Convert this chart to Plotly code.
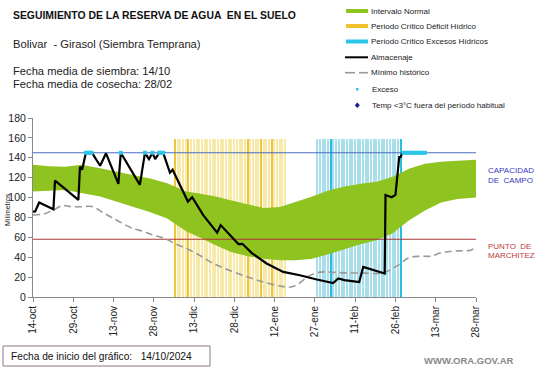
import plotly.graph_objects as go
import pandas as pd

# ---------------- data ----------------
START = pd.Timestamp("2024-10-14")
tick_days = [0, 15, 30, 45, 60, 75, 90, 105, 120, 135, 150, 165]
tick_labels = ["14-oct", "29-oct", "13-nov", "28-nov", "13-dic", "28-dic",
               "12-ene", "27-ene", "11-feb", "26-feb", "13-mar", "28-mar"]

capacidad_campo = 145
punto_marchitez = 58
period_bar_height = 159

band_days = [0, 6, 12, 18, 25, 31, 37, 44, 50, 57, 62, 68, 74, 80, 86, 92,
             98, 104, 110, 116, 122, 128, 134, 140, 146, 152, 158, 165]
band_high = [133, 131.5, 131, 133, 129.5, 126, 123, 119, 114.5, 106, 104, 101,
             97, 93, 89.5, 90.5, 95.5, 101, 107, 111, 114, 116, 121, 129,
             134, 136, 137, 138]
band_low = [106, 106.5, 107.5, 104.5, 101, 96, 91, 85, 79, 66, 60, 52,
            45, 41, 38.5, 37, 37, 38.5, 43, 48, 53, 57, 64, 77,
            87, 95, 98.5, 100]

min_days = [0, 4, 8, 11, 14, 18, 22, 26, 29, 33, 37, 41, 45, 49, 53, 57, 62,
            67, 73, 80, 86, 92, 96, 99, 103, 107, 112, 117, 124, 129, 132,
            136, 140, 144, 148, 152, 156, 160, 163, 165]
min_vals = [82.5, 83.5, 88, 92, 91, 90.8, 91, 85, 80.5, 74.5, 69, 66, 62, 59,
            53.5, 49, 42, 34, 27, 20, 15, 11, 10, 13.5, 21.5, 25, 24.8, 24.2,
            24, 23.6, 26, 32, 39.5, 41, 41, 44.5, 46, 46.5, 47, 50.5]

alm_days = [0, 0.8, 2.3, 7.6, 8.2, 16.9, 17.5, 18.3, 19.7, 22, 25, 27.2,
            31.8, 32.7, 39.8, 41.7, 43.2, 44.5, 45.5, 47, 48.5, 51, 52, 54.7,
            57.7, 59.3, 63.4, 68.6, 69.9, 76.5, 78, 81.4, 87, 93.2, 99.4,
            105.7, 111.8, 113.7, 116, 121.5, 123, 131, 131.3, 133.6, 135,
            136.4, 137, 137.5]
alm_vals = [85.8, 86, 95, 88.2, 117, 97.6, 131, 128, 145, 145, 132, 144.5,
            113.7, 145, 112.7, 145, 138.6, 145, 138.6, 145, 145, 125, 128,
            112.7, 96, 100.3, 82.4, 64.6, 72.3, 53.2, 53.5, 44.4, 33.7, 25.2,
            21.9, 17.6, 14.1, 18.6, 17, 15.1, 30.3, 23.6, 102.6, 100.3, 102.6,
            140.7, 141, 144.8]

exc_days = [19.7, 20.4, 21.1, 21.8, 32.7, 41.7, 44.5, 47, 47.8, 48.5,
            138, 139, 140, 141, 142, 143, 144, 145, 146]
exc_vals = [145] * len(exc_days)

deficit_period = ("2024-12-06", "2025-01-16")
excess_period = ("2025-01-28", "2025-02-28")
deficit_strong = ["2024-12-06", "2024-12-11", "2025-01-02", "2025-01-07", "2025-01-11"]
excess_strong = ["2025-02-02", "2025-02-28"]


def d2t(days):
    return [START + pd.to_timedelta(d, unit="D") for d in days]


# ---------------- figure ----------------
W, H = 541, 368
ML, MR, MT, MB = 33, 65, 118, 71
PW, PH = W - ML - MR, H - MT - MB


def px(x):
    return (x - ML) / PW


def py(y):
    return (H - MB - y) / PH


fig = go.Figure()

yd = pd.date_range(*deficit_period, freq="D")
fig.add_trace(go.Bar(
    x=yd, y=[period_bar_height] * len(yd), width=0.55 * 86400000,
    marker=dict(color=["#EFC53A" if str(d.date()) in deficit_strong else "#F7EAA8" for d in yd],
                line=dict(width=0)),
    hoverinfo="skip"))
cd = pd.date_range(*excess_period, freq="D")
fig.add_trace(go.Bar(
    x=cd, y=[period_bar_height] * len(cd), width=0.55 * 86400000,
    marker=dict(color=["#25BFE3" if str(d.date()) in excess_strong else "#A8DFEB" for d in cd],
                line=dict(width=0)),
    hoverinfo="skip"))

bx = d2t(band_days)
fig.add_trace(go.Scatter(x=bx, y=band_low, mode="lines", line=dict(width=0, color="#8FC31F"),
                         hoverinfo="skip"))
fig.add_trace(go.Scatter(x=bx, y=band_high, mode="lines", line=dict(width=0, color="#8FC31F"),
                         fill="tonexty", fillcolor="#8FC31F", name="Intervalo Normal"))

ends = d2t([tick_days[0], tick_days[-1]])
fig.add_trace(go.Scatter(x=ends, y=[capacidad_campo] * 2, mode="lines",
                         line=dict(color="#4A6CC0", width=1.1)))
fig.add_trace(go.Scatter(x=ends, y=[punto_marchitez] * 2, mode="lines",
                         line=dict(color="#B03434", width=1.1)))

fig.add_trace(go.Scatter(x=d2t(min_days), y=min_vals, mode="lines", line_shape="spline",
                         line=dict(color="#999999", width=1.6, dash="7px,4px"),
                         name="Mínimo histórico"))
fig.add_trace(go.Scatter(x=d2t(alm_days), y=alm_vals, mode="lines",
                         line=dict(color="#000000", width=2.2), name="Almacenaje"))
fig.add_trace(go.Scatter(x=d2t(exc_days), y=exc_vals, mode="markers",
                         marker=dict(color="#2CC5EA", size=4, symbol="square"), name="Exceso"))

FONT = "Liberation Sans, Arial, sans-serif"
ann = []


def text(x, y, s, size, color="#111111", anchor="left", bold=False, angle=0, family=FONT):
    ann.append(dict(x=px(x), y=py(y), xref="paper", yref="paper", text=("<b>%s</b>" % s) if bold else s,
                    showarrow=False, xanchor=anchor, yanchor="middle", textangle=angle,
                    font=dict(size=size, color=color, family=family)))


text(11, 15, "SEGUIMIENTO DE LA RESERVA DE AGUA  EN EL SUELO", 10.4, bold=True)
text(11, 44, "Bolivar  - Girasol (Siembra Temprana)", 11.2, color="#222222")
text(11, 71, "Fecha media de siembra: 14/10", 11.2, color="#222222")
text(11, 84, "Fecha media de cosecha: 28/02", 11.2, color="#222222")
text(7, 210, "Milímetros", 7, color="#222222", anchor="center", angle=-90)

text(486, 170, "CAPACIDAD", 8, color="#3A3AC0")
text(486, 180, "DE  CAMPO", 8, color="#3A3AC0")
text(486, 246, "PUNTO  DE", 8, color="#C03A3A")
text(486, 255, "MARCHITEZ", 8, color="#C03A3A")

text(9, 356, "Fecha de inicio del gráfico:   14/10/2024", 10.2, color="#111111")
text(422, 360, "WWW.ORA.GOV.AR", 9.5, color="#888888", bold=True)

legend_items = [
    ("Intervalo Normal", 369, 11), ("Periodo Crítico Déficit Hídrico", 369, 26),
    ("Periodo Crítico Excesos Hídricos", 369, 41.5), ("Almacenaje", 369, 57.3),
    ("Mínimo histórico", 369, 72.7), ("Exceso", 370, 89.3),
    ("Temp <3°C fuera del período habitual", 370, 105.3)]
for s, x, y in legend_items:
    text(x, y, s, 8, color="#222222")

shapes = []


def hline(x0, x1, y, color, w, dash="solid"):
    shapes.append(dict(type="line", xref="paper", yref="paper", x0=px(x0), x1=px(x1),
                       y0=py(y), y1=py(y), line=dict(color=color, width=w, dash=dash)))


hline(346, 368, 11, "#8FC31F", 4)
hline(346, 368, 26, "#F2C12E", 4)
hline(346, 368, 41.5, "#2CC5EA", 4)
hline(345, 368, 57.3, "#000000", 2)
hline(345, 355, 72.7, "#999999", 1.6)
hline(359, 368, 72.7, "#999999", 1.6)
shapes.append(dict(type="rect", xref="paper", yref="paper", x0=px(356), x1=px(358.5),
                   y0=py(90.5), y1=py(88), fillcolor="#2CC5EA", line=dict(width=0)))
shapes.append(dict(type="path", xref="paper", yref="paper",
                   path="M %f %f L %f %f L %f %f L %f %f Z" % (
                       px(357.3), py(102.6), px(359.8), py(105.3), px(357.3), py(108), px(354.8), py(105.3)),
                   fillcolor="#1A1A9A", line=dict(width=0)))
shapes.append(dict(type="rect", xref="paper", yref="paper", x0=px(3), x1=px(210),
                   y0=py(366), y1=py(346), line=dict(color="#8A7A7A", width=1), fillcolor="rgba(0,0,0,0)"))

fig.update_layout(
    width=W, height=H, margin=dict(l=ML, r=MR, t=MT, b=MB, pad=0),
    paper_bgcolor="white", plot_bgcolor="white", showlegend=False,
    bargap=0, barmode="overlay", hovermode=False,
    annotations=ann, shapes=shapes,
    font=dict(family=FONT, color="#222222"),
    xaxis=dict(type="date", range=[START, START + pd.to_timedelta(165, unit="D")],
               tickvals=d2t(tick_days), ticktext=tick_labels, tickangle=-90,
               ticks="outside", ticklen=4, tickcolor="#888888", showline=True,
               linecolor="#888888", linewidth=1, showgrid=False, zeroline=False,
               automargin=False, tickfont=dict(size=10, color="#222222")),
    yaxis=dict(range=[0, 180], dtick=20, ticks="outside", ticklen=4, tickcolor="#888888",
               showline=True, linecolor="#888888", linewidth=1, showgrid=False,
               zeroline=False, automargin=False, tickfont=dict(size=10.5, color="#222222")),
)

fig.write_html("out.html", config={"displayModeBar": False},
               post_script="document.body.style.margin='0';document.body.style.padding='0';")
